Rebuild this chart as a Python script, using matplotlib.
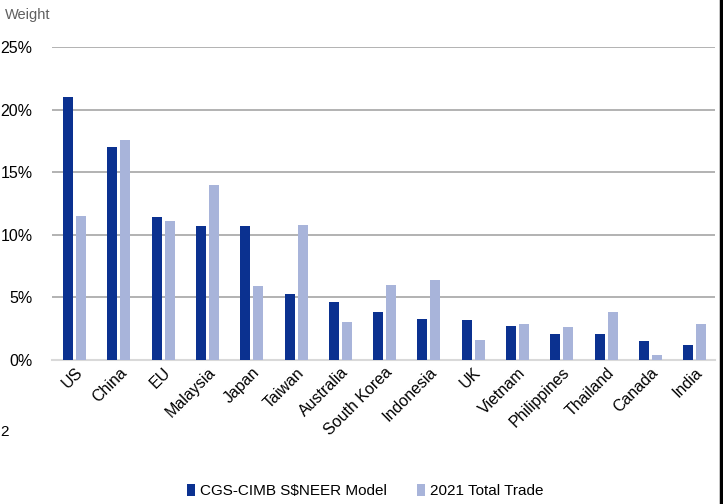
import matplotlib.pyplot as plt
import numpy as np
from matplotlib.ticker import FuncFormatter

plt.rcParams['font.family'] = ['Liberation Sans', 'DejaVu Sans']

countries = ["US", "China", "EU", "Malaysia", "Japan", "Taiwan", "Australia", "South Korea",
             "Indonesia", "UK", "Vietnam", "Philippines", "Thailand", "Canada", "India"]
model = [21.0, 17.0, 11.4, 10.7, 10.7, 5.3, 4.6, 3.8, 3.3, 3.2, 2.7, 2.1, 2.1, 1.5, 1.2]
trade = [11.5, 17.6, 11.1, 14.0, 5.9, 10.8, 3.0, 6.0, 6.4, 1.6, 2.9, 2.6, 3.8, 0.4, 2.9]

dark = "#0B3190"
light = "#A8B4DA"

fig = plt.figure(figsize=(7.23, 5.04), dpi=100)
ax = fig.add_axes([0.072, 0.2857, 0.917, 0.621])

x = np.arange(len(countries))
w = 0.226
ax.bar(x - 0.147, model, w, color=dark, label="CGS-CIMB S$NEER Model", zorder=3)
ax.bar(x + 0.147, trade, w, color=light, label="2021 Total Trade", zorder=3)

ax.set_ylim(0, 25)
ax.set_xlim(-0.51, 14.46)
ax.set_yticks([0, 5, 10, 15, 20, 25])
ax.yaxis.set_major_formatter(FuncFormatter(lambda v, p: "%d%%" % v))
ax.grid(axis='y', color="#a6a6a6", linewidth=1.2, zorder=0)
for s in ["top", "right", "left"]:
    ax.spines[s].set_visible(False)
ax.spines["bottom"].set_color("#d9d9d9")
ax.spines["bottom"].set_linewidth(1.5)
ax.tick_params(axis='both', length=0, labelsize=11.5, colors="black")
ax.tick_params(axis='y', pad=14)

ax.set_xticks(x)
ax.set_xticklabels(countries, rotation=45, ha='right', va='top', rotation_mode='anchor', fontsize=11.5)

fig.text(0.007, 0.962, "Weight", fontsize=10.5, color="#606060")
fig.text(0.0, 0.135, "2", fontsize=11, color="black")

fig.legend(loc='center', bbox_to_anchor=(0.505, 0.025), ncol=2, frameon=False,
           fontsize=11, handlelength=0.55, handleheight=0.8, handletextpad=0.3, columnspacing=2.0)

fig.add_artist(plt.Line2D([0.9975, 0.9975], [0, 1], color="black", linewidth=2.5))

fig.savefig("out.png", dpi=100)
